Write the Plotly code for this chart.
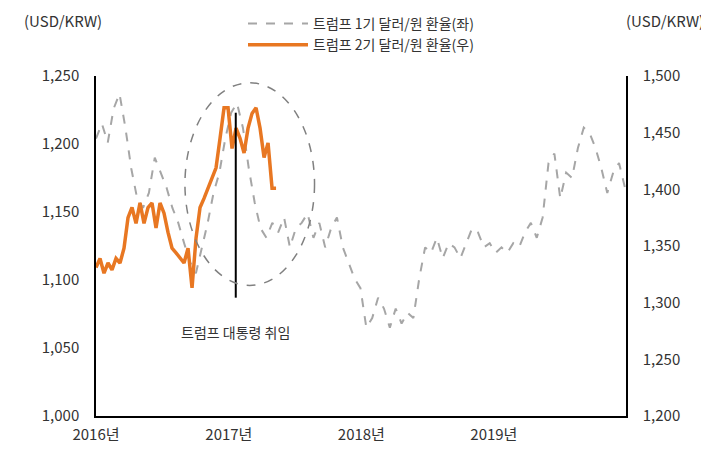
import pandas as pd
import plotly.graph_objects as go

# 트럼프 1기 (left axis), roughly bi-weekly
t1_vals = [1204, 1215, 1201, 1226, 1237, 1212, 1182, 1160, 1153, 1164, 1190, 1179, 1168, 1153, 1142,
           1127, 1113, 1105, 1124, 1142, 1164, 1179, 1204, 1223, 1230, 1212, 1182, 1157, 1138, 1131,
           1142, 1135, 1146, 1124, 1138, 1142, 1149, 1131, 1142, 1124, 1138, 1146, 1124, 1113, 1101,
           1094, 1065, 1072, 1087, 1079, 1065, 1079, 1068, 1076, 1072, 1101, 1124, 1120, 1131, 1116,
           1127, 1124, 1116, 1127, 1138, 1135, 1124, 1127, 1120, 1124, 1120, 1127, 1124, 1135, 1142,
           1131, 1146, 1186, 1193, 1160, 1179, 1175, 1197, 1212, 1208, 1197, 1182, 1164, 1179, 1186, 1168]
t1_dates = pd.date_range("2016-01-01", "2019-12-28", periods=len(t1_vals))

# 트럼프 2기 (right axis), aligned to the same inauguration date
t2_vals = [1331, 1339, 1326, 1335, 1329, 1339, 1335, 1348, 1375, 1384, 1370, 1388, 1370, 1384, 1388,
           1366, 1388, 1379, 1362, 1348, 1344, 1339, 1335, 1348, 1313, 1357, 1384, 1392, 1401, 1410,
           1419, 1445, 1472, 1472, 1436, 1454, 1445, 1432, 1454, 1467, 1472, 1454, 1428, 1441, 1401, 1401]
t2_dates = pd.date_range("2016-01-01", "2017-05-11", periods=len(t2_vals))

year_ticks = ["2016-01-01", "2017-01-01", "2018-01-01", "2019-01-01"]
year_labels = ["2016년", "2017년", "2018년", "2019년"]
inaug = "2017-01-20"

fnt = "Noto Sans CJK KR"
fig = go.Figure()
fig.add_trace(go.Scatter(x=t1_dates, y=t1_vals, name="트럼프 1기 달러/원 환율(좌)", mode="lines",
                         line=dict(color="#a6a6a6", width=2, dash="dash")))
fig.add_trace(go.Scatter(x=t2_dates, y=t2_vals, name="트럼프 2기 달러/원 환율(우)", mode="lines",
                         line=dict(color="#e87722", width=3.5), yaxis="y2"))

fig.add_shape(type="line", x0=inaug, x1=inaug, y0=1087, y1=1223, line=dict(color="black", width=2))
fig.add_shape(type="circle", x0="2016-09-02", x1="2017-08-25", y0=1096, y1=1245,
              line=dict(color="#808080", width=1.5, dash="dash"))
fig.add_annotation(x=inaug, y=1062, text="트럼프 대통령 취임", showarrow=False, font=dict(size=14, color="#333"))

fig.update_layout(
    width=709, height=461, margin=dict(l=88, r=91, t=68, b=53, autoexpand=False),
    plot_bgcolor="white", paper_bgcolor="white",
    font=dict(family=fnt, size=15, color="#333"),
    showlegend=True,
    legend=dict(x=0.5, y=1.2, xanchor="center", yanchor="top", bgcolor="rgba(0,0,0,0)",
                font=dict(size=14), itemwidth=60, tracegroupgap=2),
    xaxis=dict(range=["2016-01-01", "2019-12-31"], tickvals=year_ticks, ticktext=year_labels,
               showgrid=False, showline=True, linecolor="black", linewidth=1.5, ticks="",
               automargin=False, ticklabelstandoff=4),
    yaxis=dict(range=[1000, 1250], dtick=50, tickformat=",", showgrid=False, showline=True,
               linecolor="black", linewidth=1.5, ticks="", automargin=False, ticklabelstandoff=12),
    yaxis2=dict(range=[1200, 1500], dtick=50, tickformat=",", overlaying="y", side="right",
                showgrid=False, showline=True, linecolor="black", linewidth=1.5, ticks="",
                automargin=False, ticklabelstandoff=12),
)
fig.add_annotation(xref="paper", yref="paper", x=-0.14, y=1.2, xanchor="left", text="(USD/KRW)",
                   showarrow=False, font=dict(size=15))
fig.add_annotation(xref="paper", yref="paper", x=1.15, y=1.2, xanchor="right", text="(USD/KRW)",
                   showarrow=False, font=dict(size=15))

fig.write_html("out.html")
